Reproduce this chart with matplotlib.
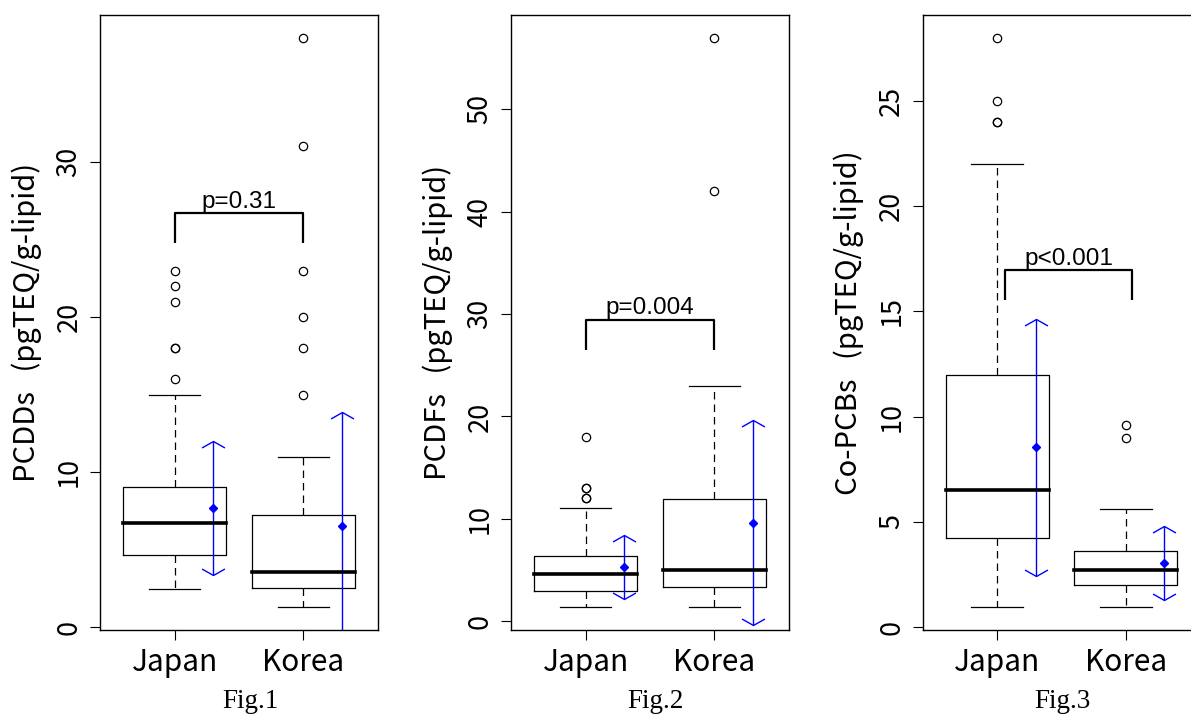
import numpy as np
import matplotlib
matplotlib.use("Agg")
import matplotlib.pyplot as plt
from matplotlib.path import Path

plt.rcParams['font.family'] = ['Noto Sans CJK JP', 'DejaVu Sans']

# ---------------- data ----------------
groups = ['Japan', 'Korea']
fig_labels = ['Fig.1', 'Fig.2', 'Fig.3']
ylabels = ['PCDDs   (pgTEQ/g-lipid)', 'PCDFs   (pgTEQ/g-lipid)', 'Co-PCBs   (pgTEQ/g-lipid)']
p_texts = ['p=0.31', 'p=0.004', 'p<0.001']

# five-number summaries: whisker low, Q1, median, Q3, whisker high
pcdd_japan = [2.45, 4.65, 6.7, 9.05, 14.95]
pcdd_korea = [1.3, 2.55, 3.6, 7.25, 11.0]
pcdd_japan_out = [16, 18, 18, 21, 22, 23]
pcdd_korea_out = [15, 18, 20, 23, 31, 38]
pcdd_mean = [7.7, 6.55]
pcdd_sd = [4.3, 7.35]
pcdd_yticks = [0, 10, 20, 30]
pcdd_bracket = [26.7, 24.8]          # bracket top, leg end
pcdd_bracket_x = [1.0, 2.0]

pcdf_japan = [1.35, 2.95, 4.55, 6.35, 11.0]
pcdf_korea = [1.35, 3.3, 4.95, 11.95, 22.95]
pcdf_japan_out = [12, 12, 13, 13, 18]
pcdf_korea_out = [42, 57]
pcdf_mean = [5.3, 9.6]
pcdf_sd = [3.1, 10.0]
pcdf_yticks = [0, 10, 20, 30, 40, 50]
pcdf_bracket = [29.45, 26.45]
pcdf_bracket_x = [1.0, 2.0]

pcb_japan = [0.95, 4.25, 6.5, 12.0, 22.0]
pcb_korea = [0.95, 2.0, 2.7, 3.6, 5.6]
pcb_japan_out = [24, 24, 25, 28]
pcb_korea_out = [9.0, 9.6]
pcb_mean = [8.55, 3.06]
pcb_sd = [6.1, 1.75]
pcb_yticks = [0, 5, 10, 15, 20, 25]
pcb_bracket = [16.95, 15.55]
pcb_bracket_x = [1.06, 2.05]

panels = [
    (pcdd_japan, pcdd_korea, pcdd_japan_out, pcdd_korea_out, pcdd_mean, pcdd_sd,
     pcdd_yticks, pcdd_bracket, pcdd_bracket_x),
    (pcdf_japan, pcdf_korea, pcdf_japan_out, pcdf_korea_out, pcdf_mean, pcdf_sd,
     pcdf_yticks, pcdf_bracket, pcdf_bracket_x),
    (pcb_japan, pcb_korea, pcb_japan_out, pcb_korea_out, pcb_mean, pcb_sd,
     pcb_yticks, pcb_bracket, pcb_bracket_x),
]

# ---------------- layout ----------------
W, H = 1191, 715
fig = plt.figure(figsize=(W / 100, H / 100), dpi=100)
fig.patch.set_facecolor('white')

ax_left_px = [100, 511, 922.5]
fig_label_x_px = [250, 655, 1062]
ax_w_px, ax_top_px, ax_bot_px = 278, 15, 630

up_head = Path([(-11.5, -6.5), (0, 0), (11.5, -6.5)],
               [Path.MOVETO, Path.LINETO, Path.LINETO])
down_head = Path([(-11.5, 6.5), (0, 0), (11.5, 6.5)],
                 [Path.MOVETO, Path.LINETO, Path.LINETO])

for i, (sj, sk, oj, ok, means, sds, yticks, br, brx) in enumerate(panels):
    ax = fig.add_axes([ax_left_px[i] / W, (H - ax_bot_px) / H,
                       ax_w_px / W, (ax_bot_px - ax_top_px) / H])
    stats = []
    for s, o, g in [(sj, oj, groups[0]), (sk, ok, groups[1])]:
        stats.append(dict(whislo=s[0], q1=s[1], med=s[2], q3=s[3], whishi=s[4],
                          fliers=np.array(o, dtype=float), label=g))
    ax.bxp(stats, positions=[1, 2], widths=0.8, capwidths=0.4, showfliers=True,
           manage_ticks=False,
           boxprops=dict(color='black', linewidth=0.9),
           medianprops=dict(color='black', linewidth=2.6, solid_capstyle='projecting'),
           whiskerprops=dict(color='black', linewidth=0.9, linestyle=(0, (6, 4))),
           capprops=dict(color='black', linewidth=0.9),
           flierprops=dict(marker='o', markerfacecolor='none', markeredgecolor='black',
                           markersize=6, markeredgewidth=0.9, linestyle='none'))

    # R-style limits (4 % extension)
    allv = np.concatenate([sj, sk, oj, ok]).astype(float)
    lo, hi = allv.min(), allv.max()
    ext = 0.04 * (hi - lo)
    ax.set_ylim(lo - ext, hi + ext)
    ax.set_xlim(0.5 - 0.04 * 2, 2.5 + 0.04 * 2)

    # mean +/- SD
    mx = np.array([1, 2]) + 0.3
    means = np.array(means)
    sds = np.array(sds)
    ax.vlines(mx, means - sds, means + sds, color='blue', lw=1.0)
    ax.plot(mx, means + sds, ls='none', marker=up_head, ms=16.5, mfc='none',
            mec='blue', mew=1.0)
    ax.plot(mx, means - sds, ls='none', marker=down_head, ms=16.5, mfc='none',
            mec='blue', mew=1.0)
    ax.plot(mx, means, ls='none', marker='D', ms=4.2, color='blue')

    # significance bracket
    ax.plot([brx[0], brx[0], brx[1], brx[1]], [br[1], br[0], br[0], br[1]],
            color='black', lw=1.6, solid_capstyle='butt')
    ax.annotate(p_texts[i], xy=((brx[0] + brx[1]) / 2, br[0]), xytext=(0, 4),
                textcoords='offset points', ha='center', va='baseline',
                family=['Liberation Sans', 'DejaVu Sans'], fontsize=17.5)

    # axes styling
    for sp in ax.spines.values():
        sp.set_linewidth(1.0)
    ax.set_xticks([1, 2])
    ax.set_xticklabels(groups, fontsize=21.5)
    ax.set_yticks(yticks)
    ax.set_yticklabels([str(t) for t in yticks], fontsize=19.5, rotation=90, va='center')
    ax.tick_params(axis='both', direction='out', length=7.5, width=0.8)
    ax.tick_params(axis='y', pad=5)
    ax.tick_params(axis='x', pad=5)
    ax.set_ylabel(ylabels[i], fontsize=21)
    ax.yaxis.set_label_coords(-0.21, 0.5)

    fig.text(fig_label_x_px[i] / W, 7 / H, fig_labels[i], ha='center', va='baseline',
             family=['Liberation Serif', 'DejaVu Serif'], fontsize=19.5)

fig.savefig('out.png', dpi=100)
